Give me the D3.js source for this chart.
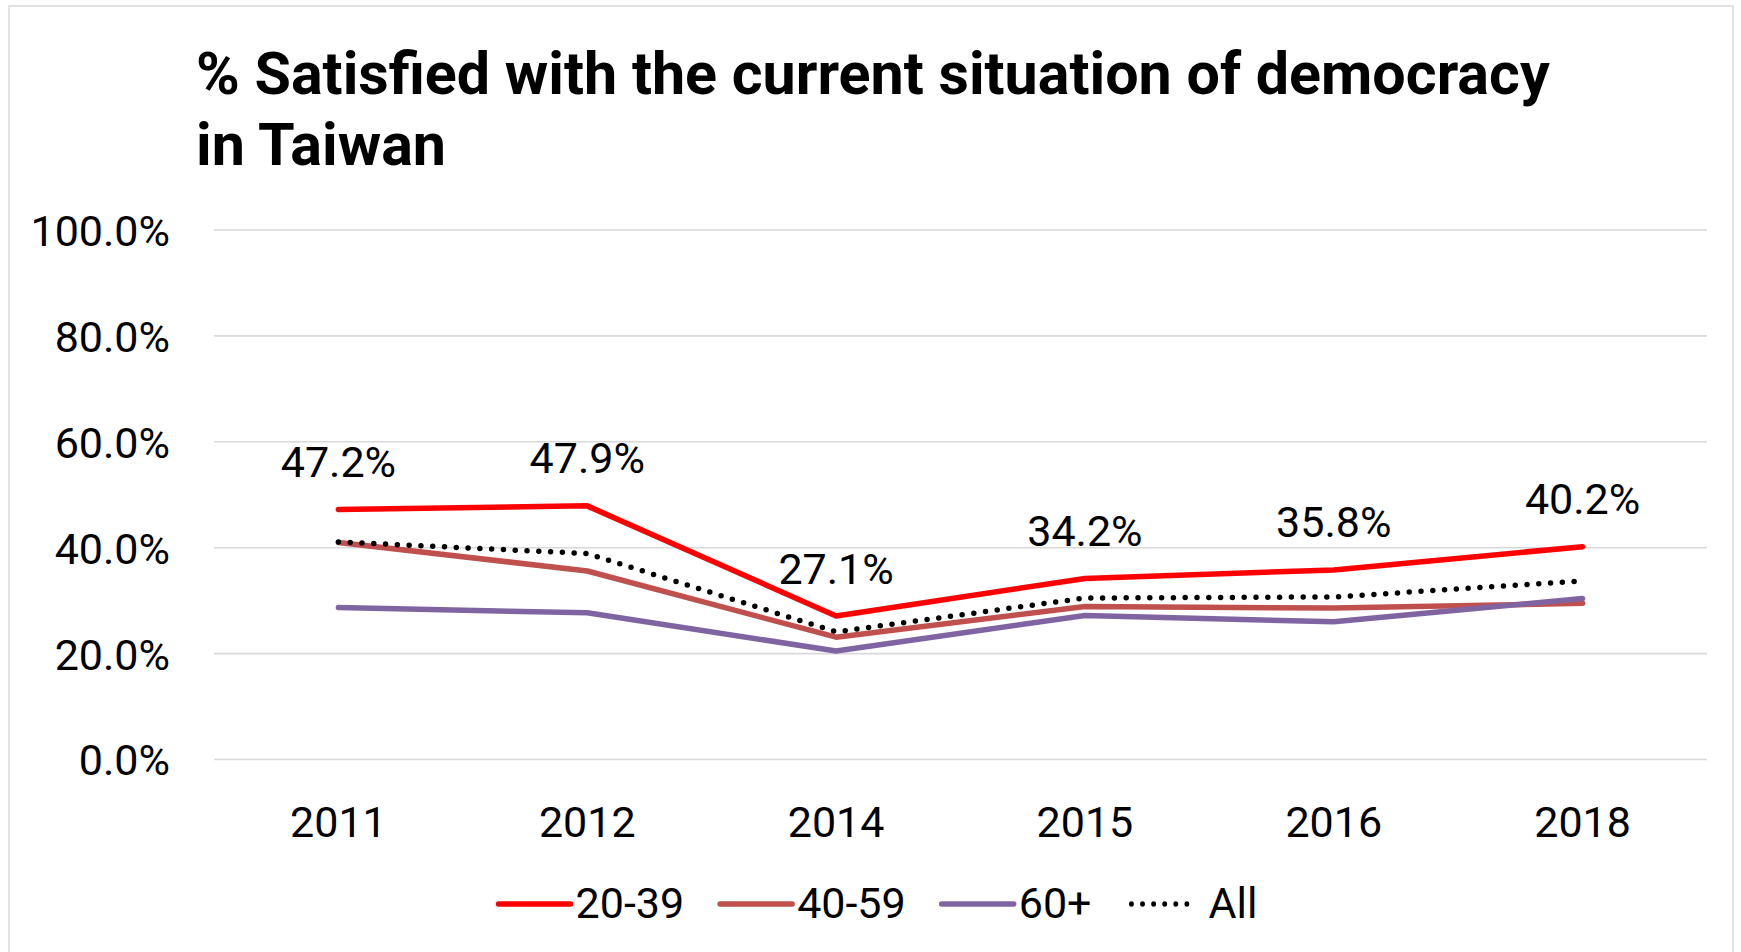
<!DOCTYPE html>
<html><head><meta charset="utf-8">
<script src="https://cdn.jsdelivr.net/npm/d3@7"></script>
<style>html,body{margin:0;padding:0;background:#fff;overflow:hidden}</style>
</head><body>
<svg id="c" width="1741" height="952"></svg>
<script>
const years = ["2011","2012","2014","2015","2016","2018"];
const s2039 = [47.2, 47.9, 27.1, 34.2, 35.8, 40.2];
const s4059 = [41.0, 35.6, 23.1, 28.9, 28.6, 29.5];
const s60p  = [28.7, 27.7, 20.5, 27.2, 26.0, 30.4];
const sAll  = [41.1, 38.9, 24.1, 30.5, 30.7, 33.7];
const yTicks = [0, 20, 40, 60, 80, 100];
const seriesNames = ["20-39", "40-59", "60+", "All"];
const titleLines = ["% Satisfied with the current situation of democracy", "in Taiwan"];

const series = [
  {name: seriesNames[0], values: s2039, color: "#FF0000", dotted: false},
  {name: seriesNames[1], values: s4059, color: "#C0504D", dotted: false},
  {name: seriesNames[2], values: s60p,  color: "#8064A2", dotted: false},
  {name: seriesNames[3], values: sAll,  color: "#000000", dotted: true}
];

const FONT = "Roboto, 'Open Sans', 'Noto Sans', sans-serif";
const svg = d3.select("#c");

// chart border
svg.append("rect").attr("x", 9).attr("y", 6).attr("width", 1724).attr("height", 980)
  .attr("fill", "#fff").attr("stroke", "#d9d9d9").attr("stroke-width", 1.5);

const x = d3.scaleBand().domain(years).range([214, 1707]);
const y = d3.scaleLinear().domain([0, 100]).range([759.5, 230]);
const cx = d => x(d) + x.bandwidth() / 2;

// title (size fitted to the reference's line width)
const title = svg.append("text").attr("font-family", FONT).attr("font-weight", 700)
  .attr("font-size", 50).attr("fill", "#000");
title.selectAll("tspan").data(titleLines).join("tspan")
  .attr("x", 196).attr("y", (d, i) => 94 + i * 71).text(d => d);
const w0 = title.select("tspan").node().getComputedTextLength();
const tSize = Math.max(46, Math.min(60, 50 * 1354 / w0));
title.attr("font-size", tSize);

// gridlines
svg.append("g").selectAll("line").data(yTicks).join("line")
  .attr("x1", 214).attr("x2", 1707)
  .attr("y1", d => y(d)).attr("y2", d => y(d))
  .attr("stroke", "#d9d9d9").attr("stroke-width", 1.6);

// y axis
const yAxis = svg.append("g").attr("transform", "translate(170,0)")
  .call(d3.axisLeft(y).tickValues(yTicks).tickFormat(d => d.toFixed(1) + "%").tickSize(0).tickPadding(0));
yAxis.select(".domain").remove();
yAxis.selectAll("text").attr("font-family", FONT).attr("font-size", 43).attr("fill", "#000")
  .attr("dy", "0.36em");

// x axis
const xAxis = svg.append("g").attr("transform", "translate(0,837)")
  .call(d3.axisBottom(x).tickSize(0).tickPadding(0));
xAxis.select(".domain").remove();
xAxis.selectAll("text").attr("font-family", FONT).attr("font-size", 43).attr("fill", "#000")
  .attr("dy", "0");

// lines
const line = d3.line().x((d, i) => cx(years[i])).y(d => y(d));
const drawOrder = [series[1], series[2], series[3], series[0]];
svg.append("g").selectAll("path").data(drawOrder).join("path")
  .attr("d", d => line(d.values))
  .attr("fill", "none")
  .attr("stroke", d => d.color)
  .attr("stroke-width", d => d.dotted ? 5.5 : 5.5)
  .attr("stroke-linecap", "round")
  .attr("stroke-linejoin", "round")
  .attr("stroke-dasharray", d => d.dotted ? "0 11.8" : null);

// data labels for 20-39
svg.append("g").selectAll("text").data(s2039).join("text")
  .attr("x", (d, i) => cx(years[i]))
  .attr("y", d => y(d) - 32.5)
  .attr("text-anchor", "middle")
  .attr("font-family", FONT).attr("font-size", 43).attr("fill", "#000")
  .text(d => d.toFixed(1) + "%");

// legend
const lg = svg.append("g");
const items = lg.selectAll("g").data(series).join("g");
items.append("line").attr("x1", 0).attr("x2", 72).attr("y1", 904).attr("y2", 904)
  .attr("stroke", d => d.color)
  .attr("stroke-width", d => d.dotted ? 5.5 : 5.5)
  .attr("stroke-linecap", "round")
  .attr("stroke-dasharray", d => d.dotted ? "0 12.6" : null)
  .attr("transform", d => d.dotted ? "translate(4,0) scale(0.88,1)" : null);
items.append("text").attr("x", d => d.dotted ? 81 : 77).attr("y", 918)
  .attr("font-family", FONT).attr("font-size", 43).attr("fill", "#000")
  .text(d => d.name);
let widths = [];
items.each(function () { widths.push(this.getBBox().width); });
const gap = 36;
const total = d3.sum(widths) + gap * (widths.length - 1);
let pos = 876 - total / 2;
items.attr("transform", (d, i) => {
  const t = `translate(${pos},0)`;
  pos += widths[i] + gap;
  return t;
});
</script>
</body></html>
